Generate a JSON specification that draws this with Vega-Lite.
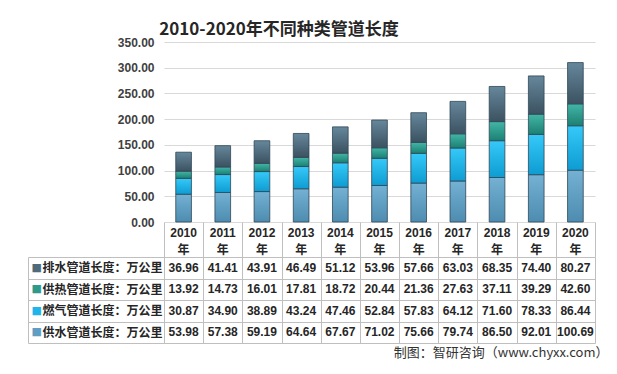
{
  "$schema": "https://vega.github.io/schema/vega-lite/v6.json",
  "background": "white",
  "padding": {"left": 27, "top": 21, "right": 12, "bottom": 6},
  "bounds": "flush",
  "spacing": 35,
  "title": {"text": "2010-2020年不同种类管道长度", "fontSize": 17, "font": "Noto Sans CJK SC", "fontWeight": "bold", "color": "#262626", "anchor": "middle", "dx": -39, "offset": -3},
  "config": {"view": {"stroke": null}, "font": "Liberation Sans, Noto Sans CJK SC"},
  "datasets": {
    "pipes": [
      {"year": "2010", "series": "排水管道长度：万公里", "k": 4, "value": 36.96},
      {"year": "2011", "series": "排水管道长度：万公里", "k": 4, "value": 41.41},
      {"year": "2012", "series": "排水管道长度：万公里", "k": 4, "value": 43.91},
      {"year": "2013", "series": "排水管道长度：万公里", "k": 4, "value": 46.49},
      {"year": "2014", "series": "排水管道长度：万公里", "k": 4, "value": 51.12},
      {"year": "2015", "series": "排水管道长度：万公里", "k": 4, "value": 53.96},
      {"year": "2016", "series": "排水管道长度：万公里", "k": 4, "value": 57.66},
      {"year": "2017", "series": "排水管道长度：万公里", "k": 4, "value": 63.03},
      {"year": "2018", "series": "排水管道长度：万公里", "k": 4, "value": 68.35},
      {"year": "2019", "series": "排水管道长度：万公里", "k": 4, "value": 74.40},
      {"year": "2020", "series": "排水管道长度：万公里", "k": 4, "value": 80.27},
      {"year": "2010", "series": "供热管道长度：万公里", "k": 3, "value": 13.92},
      {"year": "2011", "series": "供热管道长度：万公里", "k": 3, "value": 14.73},
      {"year": "2012", "series": "供热管道长度：万公里", "k": 3, "value": 16.01},
      {"year": "2013", "series": "供热管道长度：万公里", "k": 3, "value": 17.81},
      {"year": "2014", "series": "供热管道长度：万公里", "k": 3, "value": 18.72},
      {"year": "2015", "series": "供热管道长度：万公里", "k": 3, "value": 20.44},
      {"year": "2016", "series": "供热管道长度：万公里", "k": 3, "value": 21.36},
      {"year": "2017", "series": "供热管道长度：万公里", "k": 3, "value": 27.63},
      {"year": "2018", "series": "供热管道长度：万公里", "k": 3, "value": 37.11},
      {"year": "2019", "series": "供热管道长度：万公里", "k": 3, "value": 39.29},
      {"year": "2020", "series": "供热管道长度：万公里", "k": 3, "value": 42.60},
      {"year": "2010", "series": "燃气管道长度：万公里", "k": 2, "value": 30.87},
      {"year": "2011", "series": "燃气管道长度：万公里", "k": 2, "value": 34.90},
      {"year": "2012", "series": "燃气管道长度：万公里", "k": 2, "value": 38.89},
      {"year": "2013", "series": "燃气管道长度：万公里", "k": 2, "value": 43.24},
      {"year": "2014", "series": "燃气管道长度：万公里", "k": 2, "value": 47.46},
      {"year": "2015", "series": "燃气管道长度：万公里", "k": 2, "value": 52.84},
      {"year": "2016", "series": "燃气管道长度：万公里", "k": 2, "value": 57.83},
      {"year": "2017", "series": "燃气管道长度：万公里", "k": 2, "value": 64.12},
      {"year": "2018", "series": "燃气管道长度：万公里", "k": 2, "value": 71.60},
      {"year": "2019", "series": "燃气管道长度：万公里", "k": 2, "value": 78.33},
      {"year": "2020", "series": "燃气管道长度：万公里", "k": 2, "value": 86.44},
      {"year": "2010", "series": "供水管道长度：万公里", "k": 1, "value": 53.98},
      {"year": "2011", "series": "供水管道长度：万公里", "k": 1, "value": 57.38},
      {"year": "2012", "series": "供水管道长度：万公里", "k": 1, "value": 59.19},
      {"year": "2013", "series": "供水管道长度：万公里", "k": 1, "value": 64.64},
      {"year": "2014", "series": "供水管道长度：万公里", "k": 1, "value": 67.67},
      {"year": "2015", "series": "供水管道长度：万公里", "k": 1, "value": 71.02},
      {"year": "2016", "series": "供水管道长度：万公里", "k": 1, "value": 75.66},
      {"year": "2017", "series": "供水管道长度：万公里", "k": 1, "value": 79.74},
      {"year": "2018", "series": "供水管道长度：万公里", "k": 1, "value": 86.50},
      {"year": "2019", "series": "供水管道长度：万公里", "k": 1, "value": 92.01},
      {"year": "2020", "series": "供水管道长度：万公里", "k": 1, "value": 100.69}
    ]
  },
  "vconcat": [
    {
      "width": 431,
      "height": 180,
      "data": {"name": "pipes"},
      "transform": [
        {"stack": "value", "groupby": ["year"], "sort": [{"field": "k", "order": "ascending"}], "as": ["v0", "v1"]}
      ],
      "encoding": {
        "x": {"field": "year", "type": "nominal", "scale": {"paddingInner": 0.6, "paddingOuter": 0.3}, "axis": null},
        "y": {"field": "v1", "type": "quantitative", "scale": {"domain": [0, 350]},
          "axis": {"title": null, "values": [0, 50, 100, 150, 200, 250, 300, 350], "format": ".2f", "grid": true, "gridColor": "#d9d9d9", "domain": false, "ticks": false, "labelPadding": 10, "labelFontSize": 12, "labelFontWeight": "bold", "labelColor": "#404040"}},
        "y2": {"field": "v0"}
      },
      "layer": [
        {"transform": [{"filter": "datum.k == 1"}],
         "mark": {"type": "bar", "stroke": "#2f4656", "strokeWidth": 0.8,
           "fill": {"gradient": "linear", "x1": 0, "y1": 0, "x2": 0, "y2": 1, "stops": [{"offset": 0, "color": "#74b1d3"}, {"offset": 1, "color": "#4d8cb0"}]}}},
        {"transform": [{"filter": "datum.k == 2"}],
         "mark": {"type": "bar", "stroke": "#2f4656", "strokeWidth": 0.8,
           "fill": {"gradient": "linear", "x1": 0, "y1": 0, "x2": 0, "y2": 1, "stops": [{"offset": 0, "color": "#35c9f8"}, {"offset": 1, "color": "#0e9cd2"}]}}},
        {"transform": [{"filter": "datum.k == 3"}],
         "mark": {"type": "bar", "stroke": "#2f4656", "strokeWidth": 0.8,
           "fill": {"gradient": "linear", "x1": 0, "y1": 0, "x2": 0, "y2": 1, "stops": [{"offset": 0, "color": "#42b6a7"}, {"offset": 1, "color": "#1c8073"}]}}},
        {"transform": [{"filter": "datum.k == 4"}],
         "mark": {"type": "bar", "stroke": "#2f4656", "strokeWidth": 0.8,
           "fill": {"gradient": "linear", "x1": 0, "y1": 0, "x2": 0, "y2": 1, "stops": [{"offset": 0, "color": "#66879b"}, {"offset": 1, "color": "#3b5261"}]}}}
      ]
    },
    {
      "width": 431,
      "height": 86,
      "data": {"name": "pipes"},
      "title": {"text": "制图：智研咨询（www.chyxx.com）", "orient": "bottom", "anchor": "end", "fontSize": 13, "fontWeight": "normal", "color": "#333333", "offset": 3, "dx": 13, "font": "Noto Sans CJK SC"},
      "layer": [
        {
          "mark": {"type": "text", "fontSize": 12, "fontWeight": "bold", "color": "#262626"},
          "encoding": {
            "x": {"field": "year", "type": "nominal", "scale": {"paddingInner": 0, "paddingOuter": 0},
              "axis": {"orient": "top", "title": null, "ticks": false, "grid": false, "domain": false, "labelAngle": 0, "labelExpr": "[datum.label, '年']", "labelAlign": "center", "labelBaseline": "middle", "labelPadding": 25, "labelLineHeight": 17, "labelFontSize": 12, "labelFontWeight": "bold", "labelColor": "#262626", "labelOverlap": false, "labelBound": false, "labelFlush": false}},
            "y": {"field": "series", "type": "nominal", "sort": ["排水管道长度：万公里", "供热管道长度：万公里", "燃气管道长度：万公里", "供水管道长度：万公里"], "scale": {"paddingInner": 0, "paddingOuter": 0},
              "axis": {"orient": "left", "title": null, "ticks": true, "tickBand": "extent", "tickSize": 136, "tickColor": "#bfbfbf", "tickWidth": 1, "grid": true, "gridColor": "#bfbfbf", "domain": true, "domainColor": "#bfbfbf", "labelAlign": "left", "labelBaseline": "middle", "labelPadding": -14, "labelFontSize": 12, "labelFontWeight": "bold", "labelColor": "#262626", "labelFont": "Noto Sans CJK SC", "labelOverlap": false, "labelBound": false}},
            "text": {"field": "value", "type": "quantitative", "format": ".2f"}
          }
        },
        {
          "mark": {"type": "text", "opacity": 0},
          "encoding": {
            "x": {"field": "year", "type": "nominal",
              "axis": {"orient": "top", "title": null, "ticks": true, "tickBand": "extent", "tickSize": 35, "tickColor": "#bfbfbf", "tickWidth": 1, "grid": true, "gridColor": "#bfbfbf", "domain": false, "labels": false}},
            "y": {"field": "series", "type": "nominal", "sort": ["排水管道长度：万公里", "供热管道长度：万公里", "燃气管道长度：万公里", "供水管道长度：万公里"],
              "axis": {"orient": "left", "offset": 136, "title": null, "domain": true, "domainColor": "#bfbfbf", "domainWidth": 1, "ticks": false, "tickSize": 0, "grid": false, "labelExpr": "'■'", "labelAlign": "left", "labelBaseline": "middle", "labelPadding": -3, "labelFontSize": 11, "labelFont": "DejaVu Sans", "labelOverlap": false, "labelBound": false,
                "labelColor": {"condition": [
                  {"test": "datum.value === '排水管道长度：万公里'", "value": "#4e6a7b"},
                  {"test": "datum.value === '供热管道长度：万公里'", "value": "#2d9a8c"},
                  {"test": "datum.value === '燃气管道长度：万公里'", "value": "#1fb4ea"}
                ], "value": "#5f9dc2"}}},
            "text": {"value": ""}
          }
        }
      ],
      "resolve": {"axis": {"x": "independent", "y": "independent"}}
    }
  ]
}
